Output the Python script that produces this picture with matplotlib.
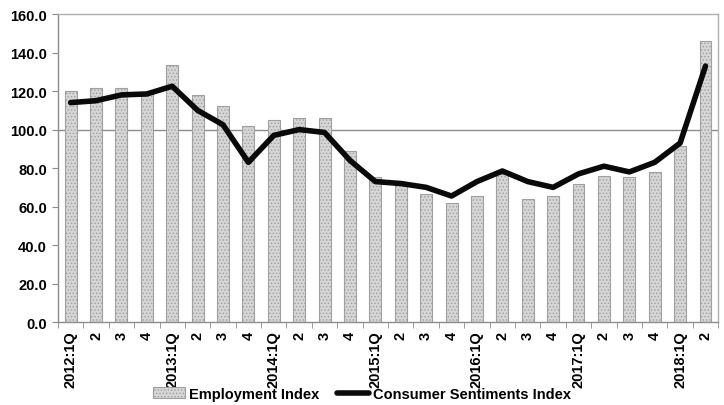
import matplotlib.pyplot as plt
import numpy as np

plt.rcParams['font.family'] = ['Liberation Sans', 'DejaVu Sans']
plt.rcParams['font.weight'] = 'bold'
plt.rcParams['hatch.color'] = '#b5b5b5'
plt.rcParams['hatch.linewidth'] = 0.6

# 分类与数据
quarters = ["2012:1Q", "2", "3", "4", "2013:1Q", "2", "3", "4",
            "2014:1Q", "2", "3", "4", "2015:1Q", "2", "3", "4",
            "2016:1Q", "2", "3", "4", "2017:1Q", "2", "3", "4",
            "2018:1Q", "2"]
employment = [120, 121.5, 121.5, 119, 133.5, 118, 112, 102,
              105, 106, 106, 89, 75.5, 71, 66.5, 62,
              65.5, 77, 64, 65.5, 72, 76, 75.5, 78,
              91.5, 146]
sentiment = [114, 115, 118, 118.5, 122.5, 110, 102.5, 83,
             97, 100, 98.5, 84, 73, 72, 70, 65.5,
             73, 78.5, 73, 70, 77, 81, 78, 83,
             93, 133]

x = np.arange(len(quarters))

fig = plt.figure(figsize=(7.24, 4.06), dpi=100)
ax = fig.add_axes([0.080, 0.204, 0.912, 0.759])

bars = ax.bar(x, employment, width=0.47, color='#d6d6d6', edgecolor='#a0a0a0',
              linewidth=0.8, hatch='.....', label='Employment Index', zorder=2)
ax.axhline(100, color='#8c8c8c', linewidth=1.0, zorder=1)
line, = ax.plot(x, sentiment, color='#0a0a0a', linewidth=4.0, solid_joinstyle='round',
                solid_capstyle='round', label='Consumer Sentiments Index', zorder=3)

ax.set_xlim(-0.5, len(quarters) - 0.5)
ax.set_ylim(0, 160)
ax.set_yticks(np.arange(0, 161, 20))
ax.set_yticklabels([f"{v:.1f}" for v in np.arange(0, 161, 20)], fontsize=10.5)

ax.set_xticks(x)
ax.set_xticklabels(quarters, rotation=90, fontsize=10.5)
ax.tick_params(axis='x', which='major', length=0, pad=6)
ax.set_xticks(np.arange(-0.5, len(quarters), 1), minor=True)
ax.tick_params(axis='x', which='minor', length=4, color='#8c8c8c', direction='out')
ax.tick_params(axis='y', length=4, color='#8c8c8c', pad=4)

for s in ax.spines.values():
    s.set_color('#b0b0b0')
    s.set_linewidth(1.0)
ax.spines['left'].set_color('#8c8c8c')
ax.spines['bottom'].set_color('#8c8c8c')

fig.legend(handles=[bars, line], loc='center', bbox_to_anchor=(0.5, 0.028), ncol=2,
           frameon=False, fontsize=10.5, handlelength=2.2, columnspacing=1.2,
           handletextpad=0.3)

plt.savefig("out.png", dpi=100)
